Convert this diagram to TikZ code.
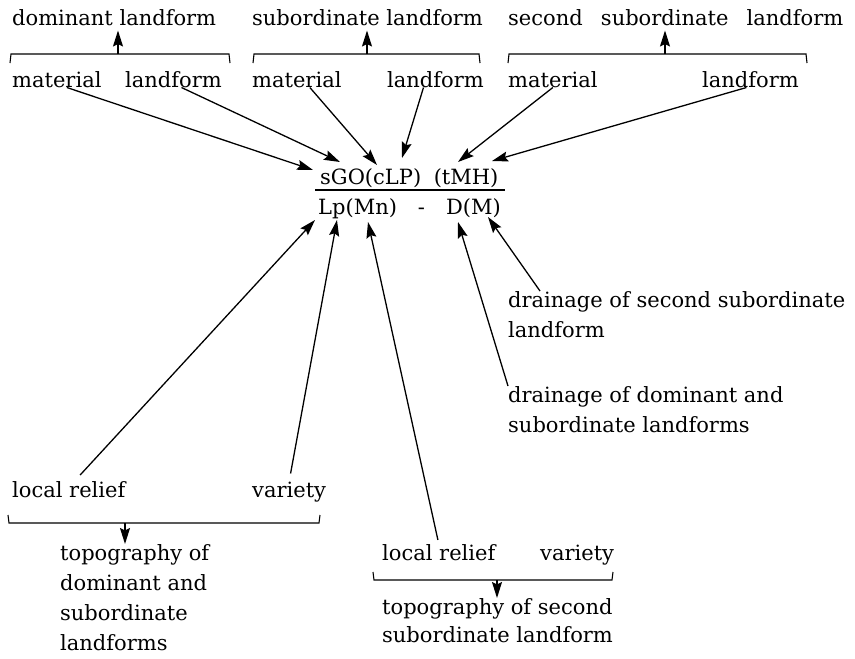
\documentclass[tikz,border=0pt]{standalone}
\usepackage{fontspec}
\setmainfont{DejaVu Serif}
\usepackage{tikz}
\usetikzlibrary{arrows.meta}

\tikzset{
	lbl/.style={inner sep=0pt, anchor=base west, font=\fontsize{21}{30}\selectfont},
	blk/.style={inner sep=0pt, anchor=north west, align=left, font=\fontsize{21}{30}\selectfont},
	ptr/.style={-{Stealth[length=16pt,width=10pt,inset=2.5pt]}, line width=1.3pt},
	brk/.style={line width=1.1pt},
}

\begin{document}
\begin{tikzpicture}[x=1pt,y=-1pt]
		\useasboundingbox (0,0) rectangle (855,659);
		
		% Landform headings along the top
		\node[lbl] (dom) at (12,25) {dominant landform};
		\node[lbl] (sub) at (252,25) {subordinate landform};
		\node[lbl] (sec) at (508,25) {second\hspace{0.55em} subordinate\hspace{0.55em} landform};
		
		% Brackets under the headings, with arrows up to them
		\draw[brk] (10,63) -- (11,54) -- (229,54) -- (230,63);
		\draw[brk] (253,63) -- (254,54) -- (479,54) -- (480,63);
		\draw[brk] (508,63) -- (509,54) -- (806,54) -- (807,63);
		\coordinate (domB) at (118,54);
		\coordinate (subB) at (367,54);
		\coordinate (secB) at (665,54);
		\draw[ptr, shorten >=5pt] (domB) -- (domB |- dom.south);
		\draw[ptr, shorten >=5pt] (subB) -- (subB |- sub.south);
		\draw[ptr, shorten >=5pt] (secB) -- (secB |- sec.south);
		
		% Material and landform under each bracket
		\node[lbl] (mat1) at (12,87) {material};
		\node[lbl] (lf1) at (125,87) {landform};
		\node[lbl] (mat2) at (252,87) {material};
		\node[lbl] (lf2) at (387,87) {landform};
		\node[lbl] (mat3) at (508,87) {material};
		\node[lbl] (lf3) at (702,87) {landform};
		
		% The map unit symbol
		\node[lbl] (num) at (320,184) {sGO(cLP)\hspace{0.6em}(tMH)};
		\node[lbl] (den) at (318,214) {Lp(Mn)\hspace{1em}-\hspace{1em}D(M)};
		\draw[brk] (315,190) -- (505,190);
		
		% Points of the symbol that the arrows reach
		\coordinate (tS) at (313,170);
		\coordinate (tGO) at (340,162);
		\coordinate (tC) at (377,165);
		\coordinate (tP) at (402,158);
		\coordinate (tT) at (458,162);
		\coordinate (tH) at (492,161);
		\coordinate (tL) at (315,220);
		\coordinate (tLp) at (337,220);
		\coordinate (tMn) at (368,222);
		\coordinate (tD) at (458,222);
		\coordinate (tM) at (488,217);
		
		% Arrows from the top labels into the symbol
		\draw[ptr] ([xshift=10pt]mat1.south) -- (tS);
		\draw[ptr] ([xshift=8pt]lf1.south) -- (tGO);
		\draw[ptr] ([xshift=13pt]mat2.south) -- (tC);
		\draw[ptr] ([xshift=-12pt]lf2.south) -- (tP);
		\draw[ptr] (mat3.south) -- (tT);
		\draw[ptr] ([xshift=-4pt]lf3.south) -- (tH);
		
		% Drainage labels on the right
		\node[blk] (dr2) at (508,291) {drainage of second subordinate\\landform};
		\node[blk] (dr1) at (508,386) {drainage of dominant and\\subordinate landforms};
		\draw[ptr] ([xshift=32pt]dr2.north west) -- (tM);
		\draw[ptr] (dr1.north west) -- (tD);
		
		% Topography of dominant and subordinate landforms
		\node[lbl] (loc1) at (12,497) {local relief};
		\node[lbl] (var1) at (252,497) {variety};
		\draw[ptr, shorten <=8pt] ([xshift=6pt]loc1.north) -- (tL);
		\draw[ptr, shorten <=8pt] (var1.north) -- (tLp);
		\draw[brk] (8,515) -- (9,523) -- (319,523) -- (320,515);
		\node[blk] (topo1) at (60,544) {topography of\\dominant and\\subordinate\\landforms};
		\coordinate (topo1B) at (125,523);
		\draw[ptr] (topo1B) -- (topo1B |- topo1.north);
		
		% Topography of second subordinate landform
		\node[lbl] (loc2) at (382,560) {local relief};
		\node[lbl] (var2) at (540,560) {variety};
		\draw[ptr, shorten <=4pt] (loc2.north) -- (tMn);
		\draw[brk] (373,572) -- (374,580) -- (612,580) -- (613,572);
		\node[blk, font=\fontsize{21}{28}\selectfont] (topo2) at (382,598) {topography of second\\subordinate landform};
		\coordinate (topo2B) at (497,580);
		\draw[ptr] (topo2B) -- (topo2B |- topo2.north);
\end{tikzpicture}
\end{document}
